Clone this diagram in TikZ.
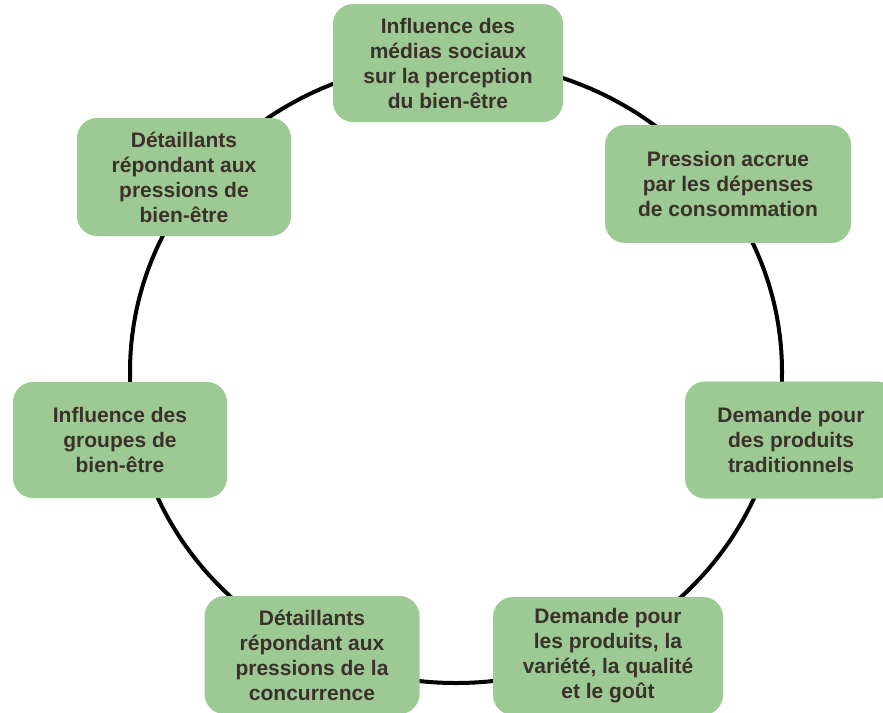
\documentclass[tikz,border=0pt]{standalone}
\usepackage{fontspec}
\setmainfont{Liberation Sans}
\definecolor{boxgreen}{RGB}{157,202,148}
\definecolor{boxtext}{RGB}{59,49,42}

\begin{document}
\begin{tikzpicture}[x=1pt, y=-1pt,
  every node/.style={font=\fontsize{21}{25}\selectfont\bfseries, text=boxtext},
  box/.style={fill=boxgreen, rounded corners=20pt, align=center, inner sep=0pt,
    minimum height=118pt},
  cycleline/.style={line width=4pt, black}]

  \useasboundingbox (0,0) rectangle (883,712);

  \def\rx{326pt}
  \def\ry{311pt}

  % the cycle behind the boxes
  \coordinate (hub) at (456,372);
  \draw[cycleline] (hub) ellipse [x radius=\rx, y radius=\ry];

  \node[box, minimum width=230pt] (media) at (448,63)
    {Influence des\\médias sociaux\\sur la perception\\du bien-être};
  \node[box, minimum width=246pt] (depense) at (728,184)
    {Pression accrue\\par les dépenses\\de consommation};
  \node[box, minimum width=212pt, minimum height=117pt] (tradition) at (791,440)
    {Demande pour\\des produits\\traditionnels};
  \node[box, minimum width=230pt] (qualite) at (608,656)
    {Demande pour\\les produits, la\\variété, la qualité\\et le goût};
  \node[box, minimum width=215pt] (concur) at (312,655)
    {Détaillants\\répondant aux\\pressions de la\\concurrence};
  \node[box, minimum width=214pt, minimum height=116pt] (groupes) at (120,440)
    {Influence des\\groupes de\\bien-être};
  \node[box, minimum width=214pt] (detail) at (184,177)
    {Détaillants\\répondant aux\\pressions de\\bien-être};

\end{tikzpicture}
\end{document}
